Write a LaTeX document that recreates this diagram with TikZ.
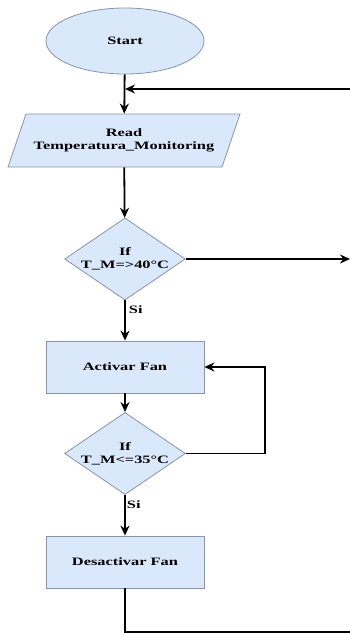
\documentclass[tikz,border=0pt]{standalone}
\usepackage{fontspec}
\setmainfont{Liberation Serif}
\usepackage{graphicx}
\usetikzlibrary{shapes.geometric,arrows.meta}

\definecolor{boxfill}{HTML}{DAE8FC}
\definecolor{boxline}{RGB}{135,148,170}

% wide bold lettering
\newcommand{\wide}[1]{\scalebox{1.45}[1]{#1}}

\begin{document}
\begin{tikzpicture}[
	x=1pt, y=-1pt,
	base/.style={
		draw=boxline, fill=boxfill, line width=0.8pt,
		font=\fontsize{11.3}{12.7}\selectfont\bfseries, align=center, inner sep=0pt
	},
	term/.style={base, ellipse, minimum width=158pt, minimum height=66pt},
	io/.style={
		base, trapezium, trapezium left angle=52, trapezium right angle=128,
		trapezium stretches body, minimum width=232pt, minimum height=53pt
	},
	proc/.style={base, rectangle, minimum width=158pt, minimum height=52pt},
	cond/.style={base, diamond, shape aspect=1.47, minimum width=115pt, minimum height=78pt},
	flow/.style={line width=1.8pt, -{Stealth[length=10pt,width=9pt]}},
	wire/.style={line width=1.8pt},
	yes/.style={font=\fontsize{11.3}{12.7}\selectfont\bfseries, anchor=west, inner sep=3pt},
	]
	\useasboundingbox (0,0) rectangle (350,634);
	\def\cx{125}

	\node[term] (start)  at (\cx, 41)    {\wide{Start}};
	\node[io]   (read)   at (124, 140.5) {\wide{Read}\\\wide{Temperatura\_Monitoring}};
	\node[cond] (ifhot)  at (\cx, 259)   {\wide{If}\\\wide{T\_M=>40°C}};
	\node[proc] (fanon)  at (\cx, 367)   {\wide{Activar Fan}};
	\node[cond] (ifcool) at (\cx, 453.5) {\wide{If}\\\wide{T\_M<=35°C}};
	\node[proc] (fanoff) at (\cx, 562)   {\wide{Desactivar Fan}};

	% loose ends at the right border
	\coordinate (loopin) at (350, 89);
	\coordinate (hotout) at (350, 259);
	\coordinate (loopout) at (350, 632);

	\draw[flow] (start) -- (read);
	\draw[flow] (loopin) -- (loopin -| start);
	\draw[flow] (read) -- (ifhot);
	\draw[flow] (ifhot.east) -- (hotout);
	\draw[flow] (ifhot) -- node[yes, pos=0.22] {\wide{Si}} (fanon);
	\draw[flow] (fanon) -- (ifcool);
	\draw[flow] (ifcool.east) -- ++(79,0) |- (fanon.east);
	\draw[flow] (ifcool) -- node[yes, pos=0.23, inner sep=1pt] {\wide{Si}} (fanoff);
	\draw[wire] (fanoff.south) |- (loopout);

\end{tikzpicture}
\end{document}
